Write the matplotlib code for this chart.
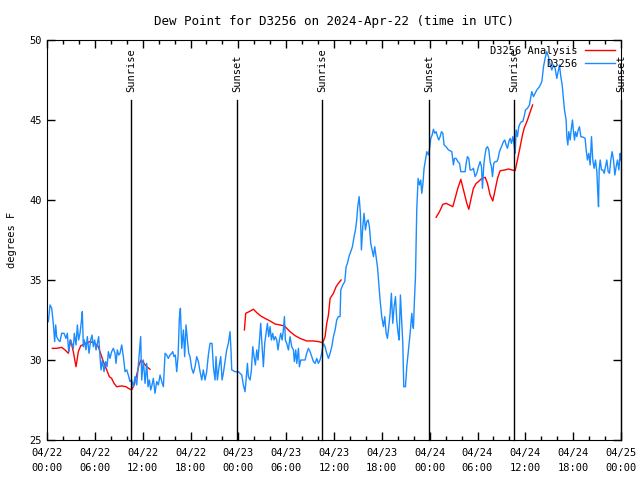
import matplotlib
matplotlib.use("Agg")
import matplotlib.pyplot as plt
import matplotlib.dates as mdates
import numpy as np
import pandas as pd

start = pd.Timestamp("2024-04-22 00:00")

# observed dew point (hours since 04/22 00:00 UTC, deg F)
obs_hours = [
    0.17, 0.38, 0.59, 0.79, 0.96, 1.09, 1.21, 1.42, 1.63, 1.84, 2.13, 2.38, 2.55, 2.72, 2.89,
    3.10, 3.30, 3.43, 3.64, 3.81, 3.97, 4.14, 4.31, 4.43, 4.56, 4.68, 4.89, 5.06, 5.27, 5.48,
    5.65, 5.81, 5.98, 6.15, 6.32, 6.48, 6.65, 6.78, 6.94, 7.15, 7.36, 7.53, 7.70, 7.90, 8.11,
    8.32, 8.53, 8.66, 8.82, 8.99, 9.16, 9.37, 9.58, 9.79, 10.00, 10.20, 10.41, 10.62, 10.83,
    11.04, 11.25, 11.46, 11.75, 11.88, 12.09, 12.30, 12.51, 12.67, 12.84, 13.01, 13.17, 13.34,
    13.55, 13.76, 13.97, 14.18, 14.39, 14.60, 14.81, 15.01, 15.22, 15.43, 15.64, 15.77, 15.93,
    16.10, 16.27, 16.44, 16.60, 16.73, 16.90, 17.11, 17.27, 17.44, 17.61, 17.78, 17.94, 18.15,
    18.36, 18.57, 18.78, 18.99, 19.20, 19.41, 19.61, 19.82, 20.03, 20.24, 20.45, 20.70, 20.87,
    21.08, 21.20, 21.37, 21.58, 21.79, 21.96, 22.12, 22.33, 22.54, 22.75, 22.96, 23.09, 23.17,
    23.59, 24.01, 24.43, 24.63, 24.84, 24.97, 25.14, 25.26, 25.47, 25.64, 25.81, 25.97, 26.14,
    26.31, 26.47, 26.64, 26.81, 26.93, 27.14, 27.31, 27.48, 27.65, 27.81, 27.98, 28.15, 28.31,
    28.48, 28.65, 28.82, 28.98, 29.15, 29.32, 29.49, 29.65, 29.78, 29.90, 30.07, 30.28, 30.49,
    30.70, 30.91, 31.03, 31.20, 31.33, 31.54, 31.66, 31.83, 32.08, 32.37, 32.58, 32.79, 33.00,
    33.21, 33.42, 33.63, 33.84, 34.04, 34.25, 34.46, 34.67, 34.88, 35.09, 35.30, 35.51, 35.72,
    35.93, 36.14, 36.34, 36.55, 36.76, 36.85, 37.10, 37.35, 37.52, 37.68, 37.93, 38.10, 38.31,
    38.52, 38.69, 38.85, 38.98, 39.15, 39.31, 39.44, 39.61, 39.77, 39.94, 40.11, 40.28, 40.44,
    40.61, 40.78, 40.95, 41.11, 41.28, 41.45, 41.61, 41.78, 41.99, 42.20, 42.37, 42.54, 42.70,
    42.87, 43.04, 43.20, 43.37, 43.54, 43.71, 43.87, 44.04, 44.17, 44.33, 44.50, 44.63, 44.75,
    44.96, 45.13, 45.34, 45.55, 45.76, 45.88, 45.96, 46.09, 46.22, 46.38, 46.55, 46.72, 46.88,
    47.01, 47.14, 47.30, 47.47, 47.64, 47.85, 47.97, 48.14, 48.31, 48.47, 48.64, 48.81, 48.98,
    49.14, 49.31, 49.48, 49.65, 49.81, 50.06, 50.36, 50.78, 50.98, 51.11, 51.32, 51.53, 51.74,
    51.91, 52.24, 52.45, 52.57, 52.74, 52.91, 53.07, 53.28, 53.49, 53.70, 53.91, 54.12, 54.33,
    54.50, 54.62, 54.79, 54.91, 55.08, 55.25, 55.42, 55.58, 55.75, 55.88, 56.04, 56.21, 56.42,
    56.59, 56.75, 56.92, 57.09, 57.26, 57.42, 57.59, 57.76, 57.93, 58.09, 58.26, 58.43, 58.60,
    58.72, 58.85, 59.01, 59.18, 59.35, 59.52, 59.68, 59.85, 60.02, 60.27, 60.52, 60.69, 60.81,
    61.02, 61.23, 61.44, 61.77, 62.07, 62.19, 62.28, 62.48, 62.69, 62.90, 63.11, 63.32, 63.53,
    63.74, 63.95, 64.16, 64.28, 64.45, 64.62, 64.78, 64.91, 65.12, 65.20, 65.33, 65.45, 65.62,
    65.75, 65.91, 66.04, 66.17, 66.29, 66.46, 66.63, 66.79, 66.96, 67.29, 67.50, 67.63, 67.79,
    67.96, 68.13, 68.30, 68.46, 68.63, 68.80, 68.97, 69.09, 69.18, 69.26, 69.39, 69.55, 69.72,
    69.89, 70.05, 70.22, 70.39, 70.56, 70.72, 70.89, 71.06, 71.23, 71.39, 71.56, 71.73, 71.90,
    72.00,
]
obs_vals = [
    32.40, 33.44, 33.23, 32.29, 31.15, 32.19, 31.46, 31.25, 31.15, 31.67, 31.67, 31.35, 31.67,
    30.52, 31.25, 31.04, 30.73, 31.67, 30.94, 32.19, 31.25, 31.67, 32.40, 33.02, 30.83, 31.25,
    30.63, 31.46, 30.42, 31.25, 31.56, 30.83, 31.25, 30.63, 31.04, 31.46, 30.21, 29.38, 30.00,
    29.27, 29.90, 29.58, 30.52, 30.10, 30.52, 30.73, 30.42, 29.79, 30.63, 30.31, 30.42, 30.94,
    30.21, 29.27, 29.38, 29.06, 28.65, 28.75, 28.33, 28.96, 28.44, 29.69, 31.46, 28.75, 30.00,
    28.54, 29.79, 28.33, 28.75, 28.13, 28.44, 28.85, 27.92, 28.65, 28.44, 29.06, 28.65, 28.33,
    30.42, 30.31, 30.10, 30.31, 30.42, 30.52, 30.21, 30.31, 29.27, 30.21, 32.60, 33.23, 30.73,
    31.88, 30.21, 32.19, 31.25, 30.42, 30.21, 29.48, 29.17, 29.58, 30.21, 29.90, 29.27, 28.75,
    29.38, 28.75, 29.27, 30.31, 31.04, 31.04, 29.58, 28.75, 30.21, 28.75, 29.58, 30.21, 28.75,
    29.17, 29.90, 30.63, 31.04, 31.77, 30.52, 29.38, 29.27, 29.27, 29.06, 28.44, 28.02, 28.75,
    29.79, 28.96, 28.75, 29.38, 30.83, 30.21, 29.69, 30.63, 30.00, 31.15, 32.29, 31.25, 29.58,
    31.04, 31.67, 32.29, 31.46, 32.08, 31.25, 31.67, 31.25, 31.46, 31.25, 30.63, 31.25, 31.67,
    31.25, 31.88, 32.71, 31.25, 31.04, 30.63, 31.46, 30.83, 30.63, 29.90, 30.63, 29.79, 30.73,
    29.58, 30.00, 30.00, 30.00, 30.42, 30.73, 30.52, 30.21, 29.90, 29.79, 30.10, 29.79, 30.00,
    30.42, 31.04, 30.83, 30.42, 30.10, 30.42, 30.83, 31.46, 31.88, 32.50, 32.71, 32.71, 34.38,
    34.69, 34.90, 35.83, 36.04, 36.56, 36.77, 37.08, 37.71, 38.13, 38.75, 39.58, 40.21, 39.17,
    36.88, 38.33, 39.17, 38.13, 38.65, 38.75, 38.33, 37.29, 36.88, 36.46, 37.08, 36.46, 35.83,
    34.79, 33.75, 32.71, 32.08, 32.71, 31.67, 31.35, 32.08, 32.92, 34.17, 32.29, 33.33, 33.96,
    32.50, 31.67, 31.25, 34.06, 32.29, 31.04, 28.33, 28.33, 29.58, 30.63, 31.67, 32.92, 32.19,
    31.98, 33.75, 35.21, 39.38, 41.35, 40.94, 41.25, 40.42, 40.94, 41.98, 42.50, 43.02, 42.81,
    43.13, 43.85, 44.06, 44.42, 44.17, 44.27, 43.96, 43.75, 43.96, 44.27, 44.17, 43.44, 43.33,
    43.13, 43.02, 42.19, 42.60, 42.60, 42.40, 42.29, 41.77, 41.77, 41.77, 42.29, 42.71, 42.60,
    41.88, 41.88, 41.98, 41.46, 41.67, 42.08, 42.40, 42.08, 40.73, 42.19, 42.71, 43.23, 43.33,
    43.13, 42.40, 42.08, 41.46, 42.29, 42.40, 42.40, 42.60, 43.02, 43.23, 43.44, 43.65, 43.75,
    43.44, 43.23, 43.65, 43.85, 43.54, 43.96, 43.44, 42.92, 44.38, 43.96, 44.58, 44.79, 44.90,
    44.90, 45.21, 45.63, 45.73, 45.94, 46.46, 46.77, 46.46, 46.67, 46.88, 47.08, 47.40, 47.92,
    48.33, 48.85, 49.27, 48.96, 48.44, 48.13, 48.44, 48.23, 47.60, 48.13, 48.44, 47.71, 47.19,
    46.35, 45.63, 45.00, 43.96, 43.44, 44.27, 43.75, 44.38, 45.00, 44.27, 43.75, 44.27, 43.96,
    44.38, 44.58, 43.96, 43.92, 43.85, 43.13, 42.50, 42.92, 42.19, 43.96, 42.50, 41.98, 42.50,
    41.77, 40.42, 39.58, 41.88, 42.50, 41.88, 41.88, 41.67, 42.08, 42.50, 41.77, 41.67, 42.50,
    43.02, 42.50, 41.56, 42.08, 42.50, 41.88, 42.92, 42.50,
]

# analysis dew point, three runs (nan = gap)
ana_hours = [
    0.67, 1.21, 1.84, 2.26, 2.68, 2.97, 3.30, 3.64, 3.93, 4.22, 4.77, 5.40, 6.02, 6.44, 6.65,
    7.07, 7.49, 7.82, 8.11, 8.41, 8.74, 9.37, 9.91, 10.20, 10.62, 10.92, 11.25, 11.54, 11.79,
    12.17, 12.51, 12.92, 18.0,
    24.76, 24.93, 25.35, 25.89, 26.31, 26.81, 27.35, 27.98, 28.61, 29.23, 29.78, 30.07, 30.49,
    31.12, 31.74, 32.58, 33.42, 34.04, 34.59, 34.88, 35.09, 35.30, 35.51, 35.93, 36.26, 36.55,
    36.89, 42.0,
    48.81, 49.23, 49.65, 50.06, 50.48, 50.90, 51.19, 51.53, 51.91, 52.24, 52.66, 52.91, 53.20,
    53.49, 53.83, 54.12, 54.54, 54.96, 55.25, 55.58, 55.92, 56.21, 56.51, 56.84, 57.47, 57.89,
    58.31, 58.72, 59.01, 59.35, 59.64, 59.85, 60.27, 60.69, 60.91,
]
ana_vals = [
    30.73, 30.73, 30.79, 30.63, 30.42, 31.25, 30.52, 29.58, 30.52, 30.88, 31.04, 31.15, 31.04,
    30.83, 30.52, 29.90, 29.38, 28.96, 28.85, 28.54, 28.33, 28.38, 28.33, 28.23, 28.13, 28.44,
    29.06, 29.69, 30.00, 29.79, 29.58, 29.42, np.nan,
    31.88, 32.92, 33.02, 33.17, 32.96, 32.75, 32.60, 32.44, 32.25, 32.19, 32.13, 31.98, 31.77,
    31.52, 31.35, 31.19, 31.19, 31.15, 31.08, 31.46, 32.29, 32.81, 33.85, 34.17, 34.58, 34.79,
    35.00, np.nan,
    38.92, 39.27, 39.73, 39.79, 39.69, 39.58, 40.10, 40.73, 41.29, 40.63, 39.79, 39.42, 40.10,
    40.73, 41.04, 41.15, 41.35, 41.42, 41.04, 40.31, 39.94, 40.63, 41.35, 41.83, 41.88, 41.94,
    41.88, 41.83, 42.50, 43.33, 44.06, 44.48, 45.00, 45.63, 45.94,
]

sun_labels = ["Sunrise", "Sunset", "Sunrise", "Sunset", "Sunrise", "Sunset"]
sun_hours = [10.54, 23.88, 34.55, 47.97, 58.64, 72.0]

obs_t = start + pd.to_timedelta(obs_hours, unit="h")
ana_t = start + pd.to_timedelta(ana_hours, unit="h")
sun_t = start + pd.to_timedelta(sun_hours, unit="h")

plt.rcParams["font.family"] = "DejaVu Sans Mono"
plt.rcParams["font.size"] = 7.5

fig = plt.figure(figsize=(6.4, 4.8), dpi=100)
ax = fig.add_axes([47 / 640, 40 / 480, 574 / 640, 400 / 480])

ax.plot(ana_t, ana_vals, color="#ff0000", lw=1.0, label="D3256 Analysis")
ax.plot(obs_t, obs_vals, color="#1a8cff", lw=1.0, label="D3256")

for t, lab in zip(sun_t, sun_labels):
    ax.plot([t, t], [0, 0.85], color="black", lw=1.0, transform=ax.get_xaxis_transform(), clip_on=False)
    ax.text(t, 0.87, lab, rotation=90, ha="center", va="bottom", transform=ax.get_xaxis_transform())

ax.set_xlim(start, start + pd.Timedelta(hours=72))
ax.set_ylim(25, 50)
ax.set_yticks([25, 30, 35, 40, 45, 50])
ax.xaxis.set_major_locator(mdates.HourLocator(byhour=[0, 6, 12, 18]))
ax.xaxis.set_minor_locator(mdates.HourLocator(interval=2))
ax.xaxis.set_major_formatter(mdates.DateFormatter("%m/%d\n%H:%M"))
ax.tick_params(which="both", direction="in", top=True, right=True, width=1)
ax.tick_params(which="major", length=6)
ax.tick_params(which="minor", length=3)
ax.tick_params(axis="x", pad=6)
for lbl in ax.get_xticklabels():
    lbl.set_linespacing(1.6)

ax.set_title("Dew Point for D3256 on 2024-Apr-22 (time in UTC)", pad=11)
ax.set_ylabel("degrees F", labelpad=9)

ax.legend(loc="upper right", frameon=False, markerfirst=False, handlelength=2.9,
          borderaxespad=0.15, labelspacing=0.3, handletextpad=0.7)

fig.savefig("out.png", dpi=100)
